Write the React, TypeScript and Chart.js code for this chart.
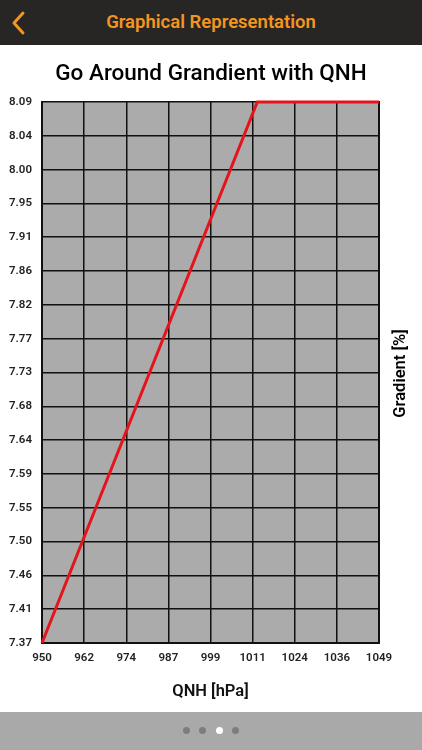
import React, { useEffect, useRef } from "react";
import { Chart, registerables } from "chart.js";

Chart.register(...registerables);

const qnhValues = [950, 1013.25, 1049];
const gradientValues = [7.37, 8.09, 8.09];
const xTickLabels = ["950", "962", "974", "987", "999", "1011", "1024", "1036", "1049"];
const yTickLabels = [
  "7.37", "7.41", "7.46", "7.50", "7.55", "7.59", "7.64", "7.68", "7.73",
  "7.77", "7.82", "7.86", "7.91", "7.95", "8.00", "8.04", "8.09",
];
const X_MIN = 950;
const X_MAX = 1049;
const Y_MIN = 7.37;
const Y_MAX = 8.09;

const FONT = "Roboto, 'Liberation Sans', Arial, sans-serif";

const decorPlugin = {
  id: "decor",
  beforeDraw(chart: any) {
    const { ctx, chartArea } = chart;
    ctx.save();
    ctx.fillStyle = "#ababab";
    ctx.fillRect(chartArea.left, chartArea.top, chartArea.right - chartArea.left, chartArea.bottom - chartArea.top);
    ctx.restore();
  },
  afterDraw(chart: any) {
    const { ctx, chartArea, width } = chart;
    ctx.save();
    ctx.fillStyle = "#000";
    ctx.textAlign = "center";
    ctx.textBaseline = "middle";
    ctx.font = `500 22.5px ${FONT}`;
    ctx.fillText("Go Around Grandient with QNH", width / 2, 29);
    ctx.translate(401, (chartArea.top + chartArea.bottom) / 2 + 1);
    ctx.rotate(-Math.PI / 2);
    ctx.font = `600 16.5px ${FONT}`;
    ctx.fillText("Gradient [%]", 0, 0);
    ctx.restore();
  },
};

function ChartView() {
  const ref = useRef<HTMLCanvasElement>(null);
  useEffect(() => {
    if (!ref.current) return;
    const chart = new Chart(ref.current, {
      type: "scatter",
      data: {
        datasets: [
          {
            data: qnhValues.map((x, i) => ({ x, y: gradientValues[i] })),
            showLine: true,
            borderColor: "#e3141c",
            backgroundColor: "#e3141c",
            borderWidth: 3,
            pointRadius: 0,
            tension: 0,
            clip: false as any,
          },
        ],
      },
      options: {
        animation: false,
        responsive: true,
        maintainAspectRatio: false,
        layout: { padding: { top: 57, right: 43, left: 0, bottom: 0 } },
        plugins: {
          legend: { display: false },
          tooltip: { enabled: false },
          title: { display: false },
        },
        scales: {
          x: {
            type: "linear",
            min: X_MIN,
            max: X_MAX,
            afterBuildTicks: (scale: any) => {
              const n = xTickLabels.length;
              scale.ticks = xTickLabels.map((_, i) => ({ value: X_MIN + (i * (X_MAX - X_MIN)) / (n - 1) }));
            },
            afterFit: (scale: any) => {
              scale.height = 69;
            },
            ticks: {
              autoSkip: false,
              maxRotation: 0,
              padding: 8,
              color: "#222",
              font: { family: FONT, size: 11.5, weight: "600" as any },
              callback: (_v: any, i: number) => xTickLabels[i],
            },
            grid: { color: "#111", lineWidth: 1.5, drawTicks: false },
            border: { color: "#111", width: 2 },
            title: {
              display: true,
              text: "QNH [hPa]",
              color: "#111",
              font: { family: FONT, size: 16.5, weight: "600" as any },
              padding: { top: 0, bottom: 10 },
            },
          },
          y: {
            type: "linear",
            min: Y_MIN,
            max: Y_MAX,
            afterBuildTicks: (scale: any) => {
              const n = yTickLabels.length;
              scale.ticks = yTickLabels.map((_, i) => ({ value: Y_MIN + (i * (Y_MAX - Y_MIN)) / (n - 1) }));
            },
            afterFit: (scale: any) => {
              scale.width = 42;
            },
            ticks: {
              autoSkip: false,
              padding: 10,
              color: "#222",
              font: { family: FONT, size: 11.5, weight: "600" as any },
              callback: (_v: any, i: number) => yTickLabels[i],
            },
            grid: { color: "#111", lineWidth: 1.5, drawTicks: false },
            border: { color: "#111", width: 2 },
          },
          y2: {
            position: "right",
            display: true,
            min: Y_MIN,
            max: Y_MAX,
            afterFit: (scale: any) => {
              scale.width = 0;
            },
            ticks: { display: false },
            grid: { display: false, drawTicks: false },
            border: { color: "#111", width: 2 },
          },
        },
      },
      plugins: [decorPlugin],
    });
    return () => chart.destroy();
  }, []);
  return <canvas ref={ref} />;
}

export default function App() {
  useEffect(() => {
    document.body.style.margin = "0";
  }, []);
  const dots = [0, 1, 2, 3];
  return (
    <div style={{ position: "relative", width: 422, height: 750, background: "#fff", overflow: "hidden", fontFamily: FONT }}>
      <div style={{ position: "absolute", left: 0, top: 0, width: 422, height: 45, background: "#272625" }}>
        <svg width="20" height="26" style={{ position: "absolute", left: 9, top: 10 }}>
          <polyline points="14,3 5,13 14,23" fill="none" stroke="#f39521" strokeWidth="3" strokeLinecap="round" strokeLinejoin="round" />
        </svg>
        <div style={{ position: "absolute", left: 0, width: 422, top: 0, height: 45, lineHeight: "45px", textAlign: "center", color: "#f39521", fontSize: 18.5, fontWeight: 600 }}>
          Graphical Representation
        </div>
      </div>
      <div style={{ position: "absolute", left: 0, top: 45, width: 422, height: 667 }}>
        <ChartView />
      </div>
      <div style={{ position: "absolute", left: 0, top: 712, width: 422, height: 38, background: "#a9a9a9" }}>
        {dots.map((d) => (
          <div
            key={d}
            style={{
              position: "absolute",
              left: 183 + d * 16.3,
              top: 15,
              width: 7,
              height: 7,
              borderRadius: 4,
              background: d === 2 ? "#fff" : "#7d7d7d",
            }}
          />
        ))}
      </div>
    </div>
  );
}
